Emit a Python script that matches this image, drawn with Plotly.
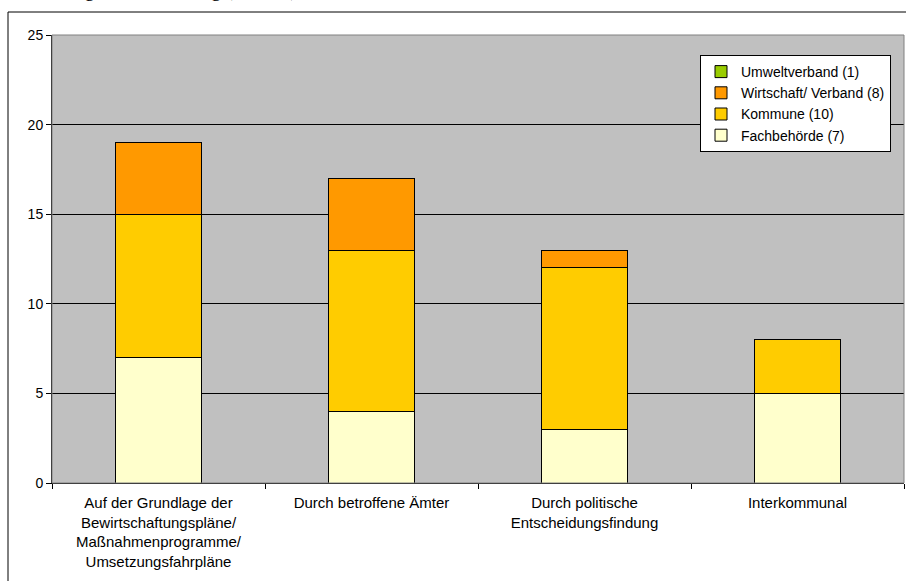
import plotly.graph_objects as go

# Categories and counts per group of respondents
categories = [
    "Auf der Grundlage der<br>Bewirtschaftungspläne/<br>Maßnahmenprogramme/<br>Umsetzungsfahrpläne",
    "Durch betroffene Ämter",
    "Durch politische<br>Entscheidungsfindung",
    "Interkommunal",
]
fachbehoerde = [7, 4, 3, 5]
kommune = [8, 9, 9, 3]
wirtschaft_verband = [4, 4, 1, 0]
umweltverband = [0, 0, 0, 0]

series_names = ["Fachbehörde (7)", "Kommune (10)", "Wirtschaft/ Verband (8)", "Umweltverband (1)"]
series_values = [fachbehoerde, kommune, wirtschaft_verband, umweltverband]
series_colors = ["#FFFFCC", "#FFCC00", "#FF9900", "#99CC00"]

y_ticks = [0, 5, 10, 15, 20, 25]

W, H = 906, 581
L, R, T, B = 52, 2, 35, 98
pw, ph = W - L - R, H - T - B

fig = go.Figure()
for name, vals, col in zip(series_names, series_values, series_colors):
    fig.add_trace(go.Bar(
        x=categories, y=vals, name=name,
        marker=dict(color=col, line=dict(color="black", width=1)),
    ))

def px_x(x):
    return (x - L) / pw

def px_y(y):
    return (H - B - y) / ph

fig.update_layout(
    width=W, height=H,
    margin=dict(l=L, r=R, t=T, b=B),
    barmode="stack",
    bargap=0.596,
    paper_bgcolor="white",
    plot_bgcolor="#C0C0C0",
    font=dict(family="Arial, Liberation Sans, sans-serif", size=13, color="black"),
    showlegend=True,
    legend=dict(
        x=px_x(700), y=px_y(55), xanchor="left", yanchor="top",
        bgcolor="white", bordercolor="black", borderwidth=1,
        traceorder="reversed", itemwidth=30,
        font=dict(size=14),
    ),
    xaxis=dict(
        showgrid=False, showline=True, linecolor="black", linewidth=1,
        ticks="outside", tickson="boundaries", ticklen=5, tickcolor="black",
        ticklabelstandoff=6,
        tickfont=dict(size=15),
    ),
    yaxis=dict(
        range=[0, 25], tickvals=y_ticks, showgrid=True, gridcolor="black", gridwidth=1,
        showline=True, linecolor="black", linewidth=1,
        ticks="outside", ticklen=5, tickcolor="black",
        zeroline=False, tickfont=dict(size=14),
    ),
    shapes=[
        # plot area frame (top and right edges)
        dict(type="rect", xref="paper", yref="paper", x0=0, x1=1, y0=0, y1=1,
             line=dict(color="#808080", width=1), layer="above"),
        # outer chart frame
        dict(type="rect", xref="paper", yref="paper",
             x0=px_x(8), x1=px_x(930), y0=px_y(600), y1=px_y(12),
             line=dict(color="black", width=1)),
    ],
    annotations=[
        dict(text="Abstimmung der Umsetzung (Anzahl)", xref="paper", yref="paper",
             x=px_x(-12), y=px_y(-10.5), xanchor="left", yanchor="middle",
             showarrow=False, font=dict(family="Liberation Serif, Times New Roman, serif", size=20)),
    ],
)

fig.write_html("out.html")
